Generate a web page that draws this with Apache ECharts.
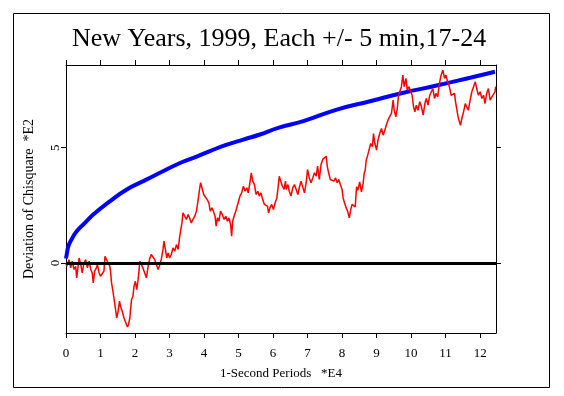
<!DOCTYPE html>
<html>
<head>
<meta charset="utf-8">
<script src="https://cdn.jsdelivr.net/npm/echarts@6/dist/echarts.min.js"></script>
<style>
  html, body { margin: 0; background: #fff; }
  #chart { width: 564px; height: 396px; }
</style>
</head>
<body>
<div id="chart"></div>
<script>
const xTicks = [0, 1, 2, 3, 4, 5, 6, 7, 8, 9, 10, 11, 12]
const yTicks = [0, 5]

// 0.05 envelope (blue)
const envelope = [
  [0, 0.2], [0.02, 0.37], [0.07, 0.73], [0.16, 1.02], [0.31, 1.38], [0.55, 1.74],
  [0.79, 2.1], [1.28, 2.68], [1.76, 3.19], [2.24, 3.55], [2.72, 3.91], [3.21, 4.27],
  [3.69, 4.56], [4.17, 4.85], [4.66, 5.13], [5.14, 5.35], [5.62, 5.57], [6.15, 5.86],
  [6.88, 6.15], [7.85, 6.65], [8.81, 7.01], [9.78, 7.38], [10.74, 7.69], [11.71, 8.03],
  [12.43, 8.29]
]

// cumulative deviation of chisquare (red)
const deviation = [
  [0, 0], [0.02, -0.14], [0.09, 0.15], [0.135, -0.21], [0.18, 0.08], [0.23, -0.28],
  [0.28, -0.14], [0.31, -0.64], [0.35, -0.14], [0.38, 0.22], [0.43, -0.07], [0.47, -0.43],
  [0.52, 0.0], [0.57, 0.15], [0.62, -0.21], [0.67, 0.08], [0.72, -0.28], [0.76, -0.43],
  [0.79, -0.86], [0.83, -0.35], [0.88, -0.21], [0.91, -0.07], [0.96, -0.43], [1.0, -0.57],
  [1.05, -0.5], [1.1, -0.35], [1.13, 0.29], [1.18, 0.22], [1.22, 0.0], [1.27, -0.14],
  [1.29, -0.35], [1.32, -0.86], [1.36, -1.22], [1.41, -1.73], [1.47, -2.38], [1.51, -2.09],
  [1.55, -1.65], [1.58, -1.87], [1.63, -2.09], [1.68, -2.38], [1.73, -2.45], [1.78, -2.77],
  [1.81, -2.67], [1.85, -2.38], [1.87, -2.02], [1.9, -1.58], [1.94, -1.44], [1.97, -1.0],
  [2.01, -0.79], [2.05, -1.15], [2.09, -0.72], [2.14, 0.08], [2.18, 0.15], [2.23, -0.21],
  [2.28, -0.28], [2.33, -0.64], [2.38, -0.14], [2.43, 0.22], [2.47, 0.37], [2.52, 0.29],
  [2.57, 0.15], [2.62, -0.07], [2.67, -0.28], [2.72, -0.07], [2.76, 0.15], [2.81, 0.59],
  [2.84, 0.95], [2.88, 0.59], [2.92, 0.22], [2.96, 0.44], [3.0, 0.22], [3.05, 0.37],
  [3.1, 0.66], [3.15, 0.51], [3.2, 0.8], [3.25, 0.59], [3.29, 1.09], [3.32, 1.38],
  [3.36, 1.74], [3.39, 2.18], [3.44, 2.03], [3.49, 1.89], [3.54, 2.1], [3.58, 1.96],
  [3.63, 1.74], [3.68, 1.89], [3.73, 2.03], [3.78, 2.25], [3.83, 2.75], [3.87, 3.19],
  [3.9, 3.48], [3.94, 3.26], [3.99, 2.97], [4.04, 3.04], [4.09, 2.75], [4.14, 2.61],
  [4.18, 2.25], [4.23, 2.39], [4.27, 2.25], [4.32, 2.03], [4.35, 1.6], [4.39, 1.96],
  [4.43, 1.81], [4.48, 2.25], [4.53, 2.1], [4.58, 1.89], [4.63, 2.03], [4.68, 1.81],
  [4.72, 1.96], [4.77, 1.67], [4.8, 1.16], [4.83, 1.81], [4.87, 2.03], [4.92, 2.25],
  [4.97, 2.32], [5.0, 2.68], [5.04, 2.9], [5.09, 3.04], [5.14, 3.33], [5.19, 3.11],
  [5.24, 3.26], [5.28, 3.04], [5.33, 3.48], [5.37, 3.91], [5.41, 3.55], [5.46, 3.4],
  [5.51, 2.97], [5.56, 3.11], [5.6, 2.9], [5.65, 3.04], [5.7, 2.75], [5.75, 2.54],
  [5.8, 2.61], [5.84, 2.46], [5.87, 2.17], [5.91, 2.39], [5.96, 2.54], [6.01, 2.32],
  [6.06, 2.61], [6.11, 2.82], [6.15, 3.33], [6.18, 3.76], [6.22, 3.55], [6.27, 3.33],
  [6.32, 3.19], [6.36, 3.55], [6.38, 3.19], [6.43, 3.4], [6.47, 3.11], [6.52, 2.9],
  [6.57, 3.26], [6.62, 3.4], [6.67, 3.48], [6.72, 2.97], [6.76, 3.26], [6.81, 3.55],
  [6.86, 3.48], [6.91, 3.04], [6.96, 3.48], [7.0, 4.05], [7.05, 3.69], [7.1, 3.48],
  [7.15, 3.69], [7.2, 3.91], [7.25, 3.76], [7.29, 4.2], [7.34, 3.62], [7.39, 4.27],
  [7.44, 4.49], [7.49, 4.56], [7.54, 4.63], [7.57, 4.2], [7.61, 3.91], [7.66, 3.62],
  [7.71, 3.69], [7.76, 3.55], [7.81, 3.69], [7.86, 3.48], [7.9, 3.62], [7.95, 3.4],
  [8.0, 3.19], [8.03, 2.82], [8.07, 2.61], [8.12, 2.39], [8.16, 2.25], [8.21, 1.96],
  [8.25, 2.32], [8.29, 2.54], [8.34, 2.61], [8.38, 2.43], [8.42, 3.3], [8.46, 3.16],
  [8.51, 3.52], [8.56, 3.08], [8.61, 3.45], [8.64, 3.88], [8.67, 4.02], [8.7, 4.46],
  [8.73, 4.6], [8.78, 4.89], [8.83, 5.18], [8.88, 5.04], [8.91, 5.61], [8.95, 5.18],
  [9.0, 4.89], [9.04, 5.32], [9.09, 5.61], [9.14, 5.83], [9.19, 5.54], [9.24, 5.76],
  [9.28, 5.97], [9.33, 6.19], [9.38, 6.34], [9.43, 6.48], [9.48, 7.06], [9.51, 6.62],
  [9.56, 6.34], [9.6, 6.7], [9.63, 7.2], [9.67, 7.42], [9.72, 7.64], [9.76, 8.14],
  [9.8, 7.64], [9.85, 8.0], [9.89, 7.49], [9.94, 7.64], [9.99, 7.42], [10.03, 7.27],
  [10.07, 6.77], [10.11, 6.55], [10.15, 6.84], [10.2, 6.62], [10.25, 6.99], [10.3, 6.77],
  [10.35, 6.41], [10.4, 6.91], [10.44, 7.13], [10.49, 6.84], [10.54, 7.27], [10.58, 7.27],
  [10.63, 7.56], [10.68, 7.13], [10.72, 7.35], [10.77, 7.2], [10.82, 7.78], [10.87, 8.14],
  [10.92, 8.36], [10.97, 8.0], [11.01, 8.14], [11.06, 7.85], [11.11, 7.64], [11.16, 7.27],
  [11.21, 7.2], [11.26, 7.35], [11.28, 7.06], [11.32, 6.7], [11.36, 6.34], [11.4, 6.12],
  [11.43, 5.97], [11.47, 6.26], [11.52, 6.55], [11.57, 6.91], [11.61, 6.77], [11.66, 6.62],
  [11.71, 7.06], [11.76, 7.42], [11.81, 7.64], [11.86, 7.85], [11.9, 7.56], [11.95, 7.27],
  [12.0, 7.42], [12.05, 7.13], [12.1, 7.27], [12.14, 6.91], [12.19, 7.35], [12.24, 7.56],
  [12.29, 7.06], [12.34, 7.2], [12.39, 7.27], [12.43, 7.42], [12.45, 7.64]
]

const X_MAX = 12.46
const Y_MIN = -3.03
const Y_MAX = 8.58

const serif = '"Liberation Serif", "DejaVu Serif", serif'

const chart = echarts.init(document.getElementById('chart'), null, { renderer: 'canvas' })

const frameAxis = {
  axisLine: { show: true, onZero: false, lineStyle: { color: '#000', width: 1 } },
  axisTick: { show: true, inside: false, length: 5, lineStyle: { color: '#000', width: 1 } },
  splitLine: { show: false }
}

chart.setOption({
  backgroundColor: '#fff',
  animation: false,
  title: {
    text: 'New Years, 1999, Each +/- 5 min,17-24',
    left: 67,
    top: 21,
    textStyle: { fontFamily: serif, fontWeight: 'normal', fontSize: 26, color: '#000' }
  },
  grid: { left: 66, top: 65, width: 430, height: 268 },
  graphic: [
    {
      type: 'rect',
      shape: { x: 13.5, y: 13.5, width: 536, height: 374 },
      style: { fill: null, stroke: '#000', lineWidth: 1 },
      silent: true
    }
  ],
  xAxis: [
    {
      ...frameAxis,
      type: 'value',
      position: 'bottom',
      min: 0,
      max: X_MAX,
      axisTick: { ...frameAxis.axisTick, customValues: xTicks },
      axisLabel: {
        customValues: xTicks,
        margin: 14,
        fontFamily: serif,
        fontSize: 13,
        color: '#000'
      },
      name: '1-Second Periods   *E4',
      nameLocation: 'middle',
      nameGap: 34,
      nameTextStyle: { fontFamily: serif, fontSize: 13, color: '#000' }
    },
    {
      ...frameAxis,
      type: 'value',
      position: 'top',
      min: 0,
      max: X_MAX,
      axisTick: { ...frameAxis.axisTick, customValues: xTicks },
      axisLabel: { show: false }
    }
  ],
  yAxis: [
    {
      ...frameAxis,
      type: 'value',
      position: 'left',
      min: Y_MIN,
      max: Y_MAX,
      axisTick: { ...frameAxis.axisTick, customValues: yTicks },
      axisLabel: {
        customValues: yTicks,
        rotate: 90,
        margin: 4,
        fontFamily: serif,
        fontSize: 13,
        color: '#000'
      },
      name: 'Deviation of Chisquare  *E2',
      nameLocation: 'middle',
      nameGap: 30,
      nameTextStyle: { fontFamily: serif, fontSize: 14, color: '#000' }
    },
    {
      ...frameAxis,
      type: 'value',
      position: 'right',
      min: Y_MIN,
      max: Y_MAX,
      axisTick: { ...frameAxis.axisTick, customValues: yTicks },
      axisLabel: { show: false }
    }
  ],
  series: [
    {
      name: 'envelope',
      type: 'line',
      data: envelope,
      smooth: true,
      symbol: 'none',
      lineStyle: { color: '#0000ff', width: 4 },
      z: 2
    },
    {
      name: 'deviation',
      type: 'line',
      data: deviation,
      symbol: 'none',
      lineStyle: { color: '#ff0000', width: 1.5 },
      z: 3,
      markLine: {
        silent: true,
        symbol: ['none', 'none'],
        label: { show: false },
        lineStyle: { color: '#000', width: 3, type: 'solid' },
        data: [{ yAxis: 0 }]
      }
    }
  ]
})
</script>
</body>
</html>
